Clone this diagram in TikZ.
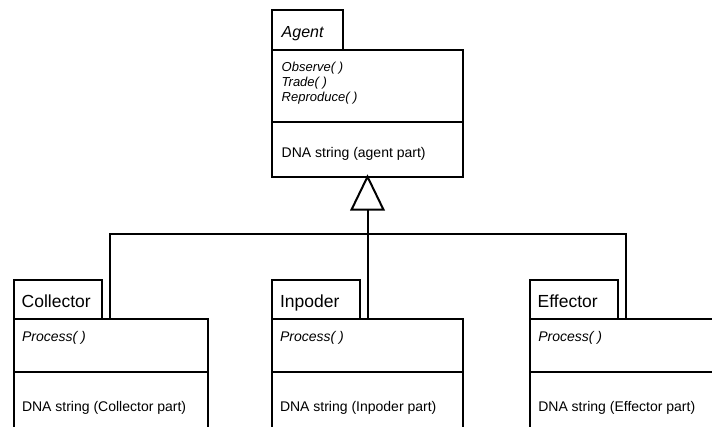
\documentclass[tikz,border=0pt]{standalone}
\usepackage{fontspec}
\setmainfont{Liberation Sans}
\usepackage{tikz}

\begin{document}
\begin{tikzpicture}[x=1pt,y=-1pt,line width=2pt,
  box/.style={draw,inner sep=0pt,outer sep=0pt,anchor=north west},
  tabbox/.style={box,minimum height=39.5pt,minimum width=88pt,anchor=south west},
  classbox/.style={box,minimum width=194pt,minimum height=150pt},
  txt/.style={inner sep=0pt,anchor=base west,font=\fontsize{14}{15}\selectfont},
  meth/.style={txt,font=\fontsize{14}{15}\selectfont\itshape},
  cname/.style={txt,font=\fontsize{17.5}{18}\selectfont}]
\useasboundingbox (0,0) rectangle (712,426);
\clip (0,0) rectangle (712,426);
% Agent
\node[tabbox,minimum width=71.6pt,minimum height=40pt] (agenttab) at (271.7,50) {};
\node[box,minimum width=191.6pt,minimum height=126.7pt] (agent) at (271.7,50) {};
\draw ([yshift=-71.7pt]agent.north west)-- ([yshift=-71.7pt]agent.north east);
\node[cname,font=\fontsize{16}{18}\selectfont\itshape] (agentname) at (280.7,37.3) {Agent};
\node[meth,font=\fontsize{13}{15}\selectfont\itshape] (observe) at (280.7,71.7) {Observe( )};
\node[meth,font=\fontsize{13}{15}\selectfont\itshape] (trade) at (280.7,86.7) {Trade( )};
\node[meth,font=\fontsize{13}{15}\selectfont\itshape] (reproduce) at (280.7,101.7) {Reproduce( )};
\node[txt] (agentdna) at (280.7,157) {DNA string (agent part)};
% Collector
\node[tabbox,minimum width=87.7pt] (coltab) at (14,319.3) {};
\node[classbox,minimum width=194.3pt] (collector) at (14,319.3) {};
\draw ([yshift=-52.7pt]collector.north west)-- ([yshift=-52.7pt]collector.north east);
\node[cname] (colname) at (20.7,307.3) {Collector};
\node[meth] (colproc) at (21,341.5) {Process( )};
\node[txt] (coldna) at (21,411.5) {DNA string (Collector part)};
% Inpoder
\node[tabbox,minimum width=88.3pt] (inptab) at (271.7,319.3) {};
\node[classbox,minimum width=191.6pt] (inpoder) at (271.7,319.3) {};
\draw ([yshift=-52.7pt]inpoder.north west)-- ([yshift=-52.7pt]inpoder.north east);
\node[cname] (inpname) at (279,307.3) {Inpoder};
\node[meth] (inpproc) at (279,341.5) {Process( )};
\node[txt] (inpdna) at (279,411.5) {DNA string (Inpoder part)};
% Effector
\node[tabbox,minimum width=88.3pt] (efftab) at (530,319.3) {};
\node[classbox] (effector) at (530,319.3) {};
\draw ([yshift=-52.7pt]effector.north west)-- ([yshift=-52.7pt]effector.north east);
\node[cname] (effname) at (536.7,307.3) {Effector};
\node[meth] (effproc) at (537.3,341.5) {Process( )};
\node[txt] (effdna) at (537.3,411.5) {DNA string (Effector part)};
% inheritance
\coordinate (tri) at ([yshift=-33pt]agent.south);
\coordinate (hub) at ([yshift=-57pt]agent.south);
\draw (agent.south)-- ([xshift=-16pt]tri)-- ([xshift=16pt]tri)-- cycle;
\draw (tri)-- (tri |- inpoder.north);
\draw ([xshift=8pt]coltab.south east) |- (hub) -| ([xshift=8pt]efftab.south east);
\end{tikzpicture}
\end{document}
